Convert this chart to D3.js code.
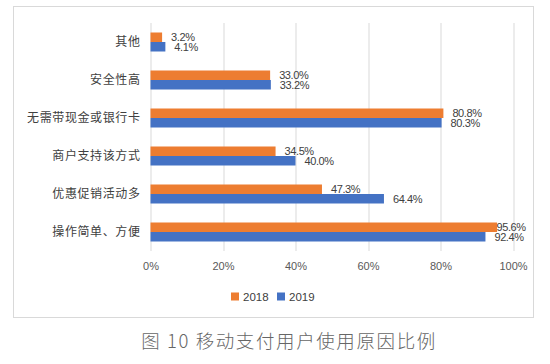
<html>
<head>
<meta charset="utf-8">
<script src="https://d3js.org/d3.v7.min.js"></script>
<style>
  body { margin: 0; background: #fff; overflow: hidden; }
  svg { display: block; }
</style>
</head>
<body>
<script>
var categories = ["其他", "安全性高", "无需带现金或银行卡", "商户支持该方式", "优惠促销活动多", "操作简单、方便"];
var series = ["2018", "2019"];
var values2018 = [3.2, 33.0, 80.8, 34.5, 47.3, 95.6];
var values2019 = [4.1, 33.2, 80.3, 40.0, 64.4, 92.4];
var xTicks = [0, 20, 40, 60, 80, 100];
var caption = "图 10 移动支付用户使用原因比例";

var colors = { "2018": "#ED7D31", "2019": "#4472C4" };
var width = 550, height = 364;
var margin = { left: 150.5, top: 23, right: 37, bottom: 113 };
var innerWidth = width - margin.left - margin.right;
var innerHeight = height - margin.top - margin.bottom;

var svg = d3.select("body").append("svg")
  .attr("width", width)
  .attr("height", height);

// chart frame
svg.append("rect")
  .attr("x", 13.5).attr("y", 6.5)
  .attr("width", 520).attr("height", 311)
  .attr("fill", "#fff")
  .attr("stroke", "#d9d9d9");

var g = svg.append("g")
  .attr("transform", "translate(" + margin.left + "," + margin.top + ")");

var xScale = d3.scaleLinear().domain([0, 100]).range([0, innerWidth]);
var yScale = d3.scaleBand().domain(categories).range([0, innerHeight])
  .paddingInner(0.5).paddingOuter(0.25);
var subScale = d3.scaleBand().domain(series).range([0, yScale.bandwidth()]);

// gridlines
g.selectAll("line.grid").data(xTicks).enter().append("line")
  .attr("class", "grid")
  .attr("x1", function(d) { return Math.round(xScale(d)) + 0.5; })
  .attr("x2", function(d) { return Math.round(xScale(d)) + 0.5; })
  .attr("y1", 0).attr("y2", innerHeight)
  .attr("stroke", "#d9d9d9");

// x axis labels
var xAxis = d3.axisBottom(xScale).tickValues(xTicks)
  .tickFormat(function(d) { return d + "%"; }).tickSize(0).tickPadding(11);
var xAxisG = g.append("g")
  .attr("transform", "translate(0," + innerHeight + ")")
  .call(xAxis);
xAxisG.select(".domain").remove();
xAxisG.selectAll("text")
  .attr("font-family", "Liberation Sans, Arial, sans-serif")
  .attr("font-size", 11)
  .attr("fill", "#595959");

// y axis labels
var yAxis = d3.axisLeft(yScale).tickSize(0).tickPadding(10);
var yAxisG = g.append("g").call(yAxis);
yAxisG.select(".domain").remove();
yAxisG.selectAll("text")
  .attr("font-family", "Noto Sans CJK SC, sans-serif")
  .attr("font-size", 12)
  .attr("letter-spacing", 0.6)
  .attr("fill", "#404040");

var rows = categories.map(function(c, i) {
  return { cat: c, values: [
    { key: "2018", value: values2018[i] },
    { key: "2019", value: values2019[i] }
  ] };
});

var groups = g.selectAll("g.row").data(rows).enter().append("g")
  .attr("class", "row")
  .attr("transform", function(d) { return "translate(0," + yScale(d.cat) + ")"; });

groups.selectAll("rect").data(function(d) { return d.values; }).enter().append("rect")
  .attr("x", 0)
  .attr("y", function(d) { return subScale(d.key); })
  .attr("width", function(d) { return xScale(d.value); })
  .attr("height", subScale.bandwidth())
  .attr("fill", function(d) { return colors[d.key]; });

// value labels, pulled in where they would run past the frame
groups.selectAll("text").data(function(d) { return d.values; }).enter().append("text")
  .attr("x", function(d) { return Math.min(xScale(d.value) + 9, 346); })
  .attr("y", function(d) { return subScale(d.key) + subScale.bandwidth() / 2 + (d.key === "2018" ? -0.5 : 0.5); })
  .attr("dy", "0.35em")
  .attr("font-family", "Liberation Sans, Arial, sans-serif")
  .attr("font-size", 11)
  .attr("letter-spacing", -0.4)
  .attr("fill", "#404040")
  .text(function(d) { return d.value.toFixed(1) + "%"; });

// legend
var legend = svg.append("g").attr("transform", "translate(231,297)");
series.forEach(function(s, i) {
  var lg = legend.append("g").attr("transform", "translate(" + (i * 46) + ",0)");
  lg.append("rect").attr("x", 0).attr("y", -4.5).attr("width", 8).attr("height", 8)
    .attr("fill", colors[s]);
  lg.append("text").attr("x", 12).attr("y", 0).attr("dy", "0.35em")
    .attr("font-family", "Liberation Sans, Arial, sans-serif")
    .attr("font-size", 11.5)
    .attr("fill", "#404040")
    .text(s);
});

// caption
svg.append("text")
  .attr("x", 289).attr("y", 342).attr("dy", "0.35em")
  .attr("text-anchor", "middle")
  .attr("font-family", "Noto Sans CJK SC, sans-serif")
  .attr("font-size", 18.5)
  .attr("font-weight", 300)
  .attr("letter-spacing", 1.6)
  .attr("fill", "#666")
  .text(caption);
</script>
</body>
</html>
